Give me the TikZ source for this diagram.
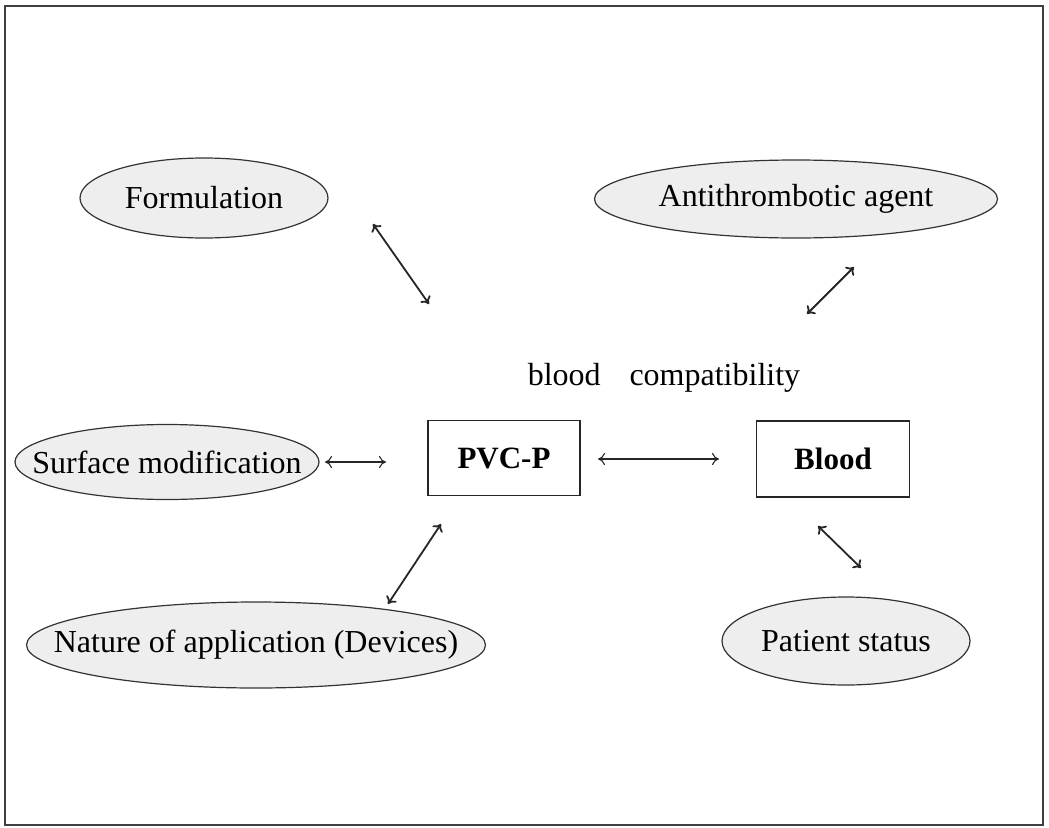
\documentclass[tikz,border=0pt]{standalone}
\usepackage{fontspec}
\setmainfont{Liberation Serif}
\usetikzlibrary{shapes.geometric,arrows.meta}
\begin{document}
\begin{tikzpicture}[x=1pt,y=-1pt,
  every node/.style={font=\fontsize{32}{37}\selectfont, inner sep=0pt},
  factor/.style={ellipse, draw=black!80, line width=1.2pt, fill=gray!13,
    label={[font=\fontsize{32}{37}\selectfont]center:#1}},
  core/.style={rectangle, draw=black!85, line width=1.4pt, font=\fontsize{31}{36}\selectfont\bfseries},
  link/.style={draw=black!85, line width=1.8pt, {To[length=7pt,width=12pt]}-{To[length=7pt,width=12pt]}},
  flat/.style={draw=black!85, line width=1.1pt, {To[length=7pt,width=12pt]}-{To[length=7pt,width=12pt]}}
]
\useasboundingbox (0,0) rectangle (1049,827);
\draw[line width=1.5pt, draw=black!75] (5,6) rectangle (1043,825);

% central boxes
\node[core, minimum width=152pt, minimum height=75pt] (pvc) at (504,458) {PVC-P};
\node[core, minimum width=153pt, minimum height=76pt] (blood) at (833,459) {Blood};
\node (compat) at (664,378) {blood\hspace{0.9em}compatibility};

% influencing factors (outline sized directly, text set as a centred label)
\node[factor=Formulation, minimum width=248pt, minimum height=80pt] (form) at (204,198) {};
\node[factor=Antithrombotic agent, minimum width=403pt, minimum height=78pt] (anti) at (796,199) {};
\node[factor=Surface modification, minimum width=304pt, minimum height=75pt] (surf) at (167,462) {};
\node[factor=Nature of application (Devices), minimum width=459pt, minimum height=86pt] (nat) at (256,645) {};
\node[factor=Patient status, minimum width=248pt, minimum height=88pt] (pat) at (846,641) {};

% connector ends
\coordinate (f1) at (373,224);
\coordinate (f2) at (429,304);
\coordinate (a1) at (854,267);
\coordinate (a2) at (807,314);
\coordinate (s1) at (325,462);
\coordinate (s2) at (386,462);
\coordinate (n1) at (441,524);
\coordinate (n2) at (388,604);
\coordinate (b1) at (818,526);
\coordinate (b2) at (861,568);
\coordinate (p1) at (598,459);
\coordinate (p2) at (719,459);

\draw[link] (f1) -- (f2);
\draw[link] (a1) -- (a2);
\draw[link] (n1) -- (n2);
\draw[link] (b1) -- (b2);
\draw[flat] (s1) -- (s2);
\draw[flat] (p1) -- (p2);
\end{tikzpicture}
\end{document}
